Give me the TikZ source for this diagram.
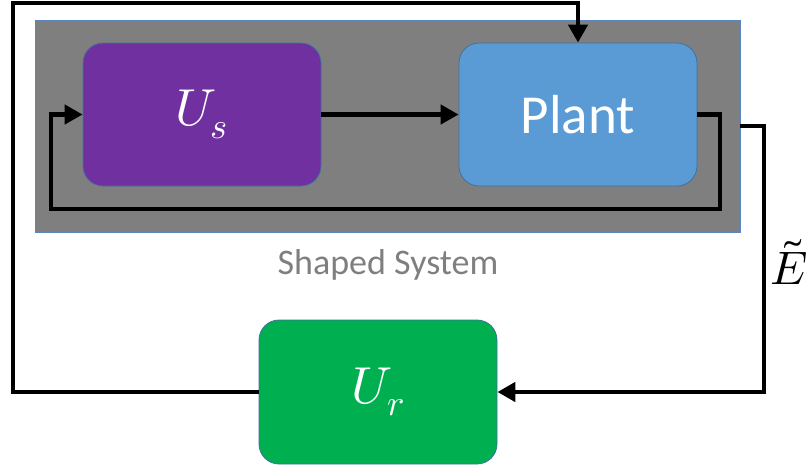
\documentclass[tikz,border=0pt]{standalone}
\usepackage{fontspec}
\usepackage{unicode-math}
\setmainfont{Carlito}
\setmathfont{Latin Modern Math}
\usetikzlibrary{arrows.meta}
\definecolor{sysgray}{HTML}{7F7F7F}
\definecolor{sysedge}{HTML}{5B86C0}
\definecolor{blkedge}{HTML}{41719C}
\definecolor{uspurple}{HTML}{7030A0}
\definecolor{plantblue}{HTML}{5B9BD5}
\definecolor{urgreen}{HTML}{00B050}
\definecolor{labgray}{HTML}{7F7F7F}
\tikzset{
  sysbox/.style={draw=sysedge, line width=0.8pt, fill=sysgray, minimum width=705pt, minimum height=212pt, inner sep=0pt},
  blk/.style={draw=blkedge, line width=0.8pt, rounded corners=20pt, minimum width=238pt, minimum height=143pt, inner sep=0pt, text=white, font=\fontsize{52}{60}\selectfont},
  conn/.style={line width=4.5pt, black, line join=miter},
  arr/.style={conn, -{Triangle[length=18pt,width=19pt]}}
}
\begin{document}
\begin{tikzpicture}[x=1pt,y=-1pt]
\useasboundingbox (0,0) rectangle (809,467);
\node[sysbox] (sys) at (387.5,126) {};
\node[blk, fill=uspurple] (us) at (202,114.5) {$U_{\scriptstyle s}$};
\node[blk, fill=plantblue, font=\fontsize{55}{60}\selectfont] (plant) at (578,114.5) {Plant};
\node[blk, fill=urgreen, minimum height=144pt] (ur) at (378,392) {$U_{\scriptstyle r}$};
\node[text=labgray, font=\fontsize{36}{42}\selectfont] (lab) at (388,265) {Shaped System};
\node[font=\fontsize{47}{52}\selectfont, inner sep=0pt] (et) at (789,262) {$\tilde{E}$};
% connectors
\draw[arr] (us.east) -- (plant.west);
\draw[arr] (plant.east) -| (720,209) -- (51,209) -- (51,114.5) -- (us.west);
\draw[arr] (ur.west) -| (13,3) -| (plant.north);
\draw[arr] (sys.east) -- (764,126) |- (ur.east);
\end{tikzpicture}
\end{document}
